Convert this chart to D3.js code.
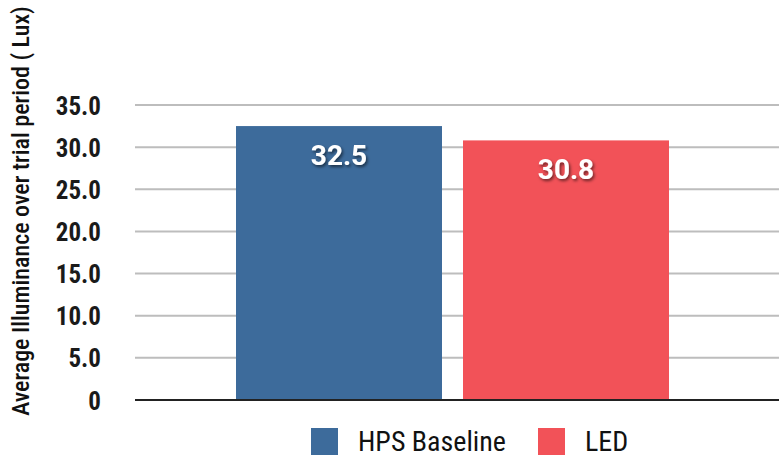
<!DOCTYPE html>
<html>
<head>
<meta charset="utf-8">
<script src="https://cdn.jsdelivr.net/npm/d3@7"></script>
<style>
  html, body { margin: 0; padding: 0; background: #fff; }
  svg { display: block; }
  .narrow { font-family: "Liberation Sans Narrow", "Arial Narrow", "Roboto Condensed", sans-serif; }
</style>
</head>
<body>
<svg id="chart" width="779" height="462"></svg>
<script>
// Series and axis values
const categories = ["HPS Baseline", "LED"];
const values = [32.5, 30.8];
const colors = ["#3D6B9B", "#F25258"];
const yTicks = [0, 5, 10, 15, 20, 25, 30, 35];
const yTickLabels = ["0", "5.0", "10.0", "15.0", "20.0", "25.0", "30.0", "35.0"];
const yTitle = "Average Illuminance over trial period ( Lux)";

const svg = d3.select("#chart");
const plot = { left: 135, right: 779, top: 105, bottom: 400 };

const defs = svg.append("defs");
const f = defs.append("filter").attr("id", "txtShadow")
  .attr("x", "-20%").attr("y", "-20%").attr("width", "140%").attr("height", "160%");
f.append("feDropShadow").attr("dx", 1.5).attr("dy", 2).attr("stdDeviation", 1.6)
  .attr("flood-color", "#000").attr("flood-opacity", 0.55);

const y = d3.scaleLinear().domain([0, 35]).range([plot.bottom, plot.top]);
const x = d3.scaleBand().domain(categories)
  .range([236, 669]).paddingInner(0.0925).paddingOuter(0);

// Gridlines
svg.append("g")
  .selectAll("line").data(yTicks.filter(d => d > 0)).join("line")
  .attr("x1", plot.left).attr("x2", plot.right)
  .attr("y1", d => y(d)).attr("y2", d => y(d))
  .attr("stroke", "#BDBDBD").attr("stroke-width", 2);

// Y axis tick labels
const yAxis = d3.axisLeft(y).tickValues(yTicks)
  .tickFormat((d, i) => yTickLabels[i]).tickSize(0).tickPadding(0);
const gy = svg.append("g").attr("transform", `translate(101,0)`).call(yAxis);
gy.select(".domain").remove();
gy.selectAll("text")
  .attr("class", "narrow")
  .attr("font-size", 25).attr("font-weight", "bold").attr("fill", "#1a1a1a")
  .attr("dy", "0.36em");

// Bars
svg.append("g").selectAll("rect").data(values).join("rect")
  .attr("x", (d, i) => x(categories[i]))
  .attr("width", x.bandwidth())
  .attr("y", d => y(d))
  .attr("height", d => y(0) - y(d))
  .attr("fill", (d, i) => colors[i]);

// Baseline
svg.append("line")
  .attr("x1", plot.left).attr("x2", plot.right)
  .attr("y1", y(0)).attr("y2", y(0))
  .attr("stroke", "#222").attr("stroke-width", 2);

// Value labels
svg.append("g").selectAll("text").data(values).join("text")
  .attr("x", (d, i) => x(categories[i]) + x.bandwidth() / 2)
  .attr("y", d => y(d) + 39)
  .attr("text-anchor", "middle")
  .attr("font-family", "Roboto, 'Liberation Sans', sans-serif")
  .attr("font-weight", "bold").attr("font-size", 28)
  .attr("fill", "#fff").attr("filter", "url(#txtShadow)")
  .text(d => d.toFixed(1));

// Y axis title
svg.append("text")
  .attr("class", "narrow")
  .attr("transform", `translate(29,${(12 + 410) / 2}) rotate(-90)`)
  .attr("text-anchor", "middle")
  .attr("font-size", 24).attr("font-weight", 500).attr("fill", "#111")
  .text(yTitle);

// Legend
const legendX = [311, 538];
const lg = svg.append("g").selectAll("g").data(categories).join("g")
  .attr("transform", (d, i) => `translate(${legendX[i]},428)`);
lg.append("rect").attr("width", 27).attr("height", 27)
  .attr("fill", (d, i) => colors[i]);
lg.append("text")
  .attr("class", "narrow")
  .attr("x", 47).attr("y", 23)
  .attr("font-size", 28).attr("fill", "#111")
  .text(d => d);
</script>
</body>
</html>
